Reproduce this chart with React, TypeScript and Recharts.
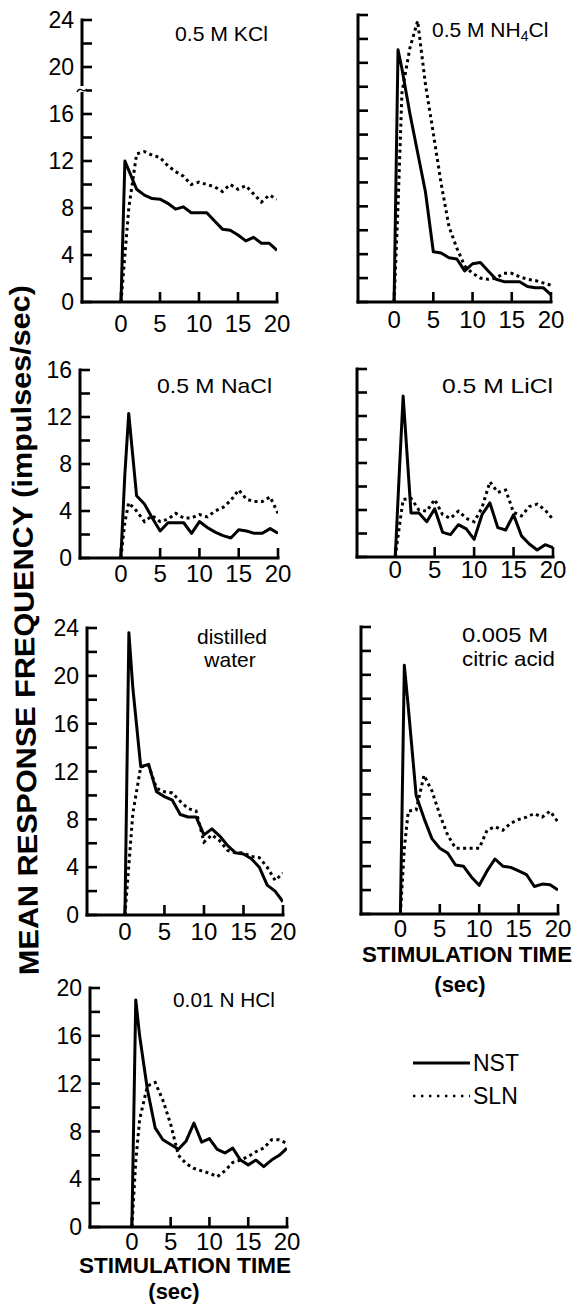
import React from 'react';
import { LineChart, Line, XAxis, YAxis } from 'recharts';

// time points (sec)
const TIME = [0, 0.5, 1, 2, 3, 4, 5, 6, 7, 8, 9, 10, 11, 12, 13, 14, 15, 16, 17, 18, 19, 20];

const X_TICKS = [0, 5, 10, 15, 20];
const Y_TICKS_24 = [0, 2, 4, 6, 8, 10, 12, 14, 16, 18, 20, 22, 24];
const Y_TICKS_20 = [0, 2, 4, 6, 8, 10, 12, 14, 16, 18, 20];
const Y_TICKS_16 = [0, 2, 4, 6, 8, 10, 12, 14, 16];
const Y_LABELS = [0, 4, 8, 12, 16, 20, 24];

const KCL_NST = [0, 12, 11.2, 9.6, 9.1, 8.8, 8.75, 8.4, 7.9, 8.1, 7.6, 7.6, 7.6, 6.9, 6.2, 6.1, 5.7, 5.2, 5.5, 5.0, 5.0, 4.4];
const KCL_SLN = [0, 4, 8, 12.6, 12.8, 12.5, 12.3, 11.6, 11.1, 10.7, 10.0, 10.2, 10.0, 9.8, 9.4, 10.0, 9.6, 9.9, 9.2, 8.5, 9.1, 8.75];

const NH4CL_NST = [0, 21.1, 19.5, 15.8, 12.5, 9.2, 4.2, 4.1, 3.7, 3.6, 2.6, 3.2, 3.3, 2.6, 1.9, 1.7, 1.7, 1.7, 1.3, 1.2, 1.2, 0.6];
const NH4CL_SLN = [0, 8, 17.5, 21.2, 23.5, 18.2, 14.1, 9.9, 6.3, 4.5, 3.0, 2.4, 2.0, 1.9, 2.0, 2.4, 2.4, 2.1, 1.9, 1.8, 1.6, 1.4];

const NACL_NST = [0, 7, 12.3, 5.3, 4.6, 3.4, 2.3, 3.0, 3.0, 3.0, 2.1, 3.1, 2.6, 2.2, 1.9, 1.7, 2.4, 2.3, 2.1, 2.1, 2.5, 2.1];
const NACL_SLN = [0, 3, 4.7, 4.0, 3.1, 3.6, 3.1, 3.3, 3.8, 3.4, 3.4, 3.7, 3.5, 4.0, 4.3, 4.9, 5.8, 5.0, 4.8, 4.8, 5.2, 3.8];

const LICL_NST = [0, 7, 13.7, 3.75, 3.75, 3.0, 4.1, 2.1, 1.9, 2.75, 2.4, 1.5, 3.6, 4.6, 2.5, 2.3, 3.6, 1.8, 1.1, 0.6, 1.05, 0.8];
const LICL_SLN = [0, 2.5, 4.9, 5.0, 4.0, 3.9, 4.9, 3.6, 3.3, 3.9, 3.3, 3.0, 4.2, 6.4, 5.5, 5.7, 3.8, 3.5, 4.3, 4.5, 4.0, 3.2];

const WATER_NST = [0, 23.6, 19, 12.4, 12.6, 10.3, 9.9, 9.6, 8.4, 8.2, 8.2, 6.7, 7.2, 6.6, 5.8, 5.2, 5.1, 4.7, 4.0, 2.5, 2.0, 1.1];
const WATER_SLN = [0, 4.2, 8.5, 12.4, 12.5, 10.6, 10.3, 10.2, 9.5, 8.9, 8.7, 6.1, 6.7, 6.2, 5.4, 5.2, 5.2, 4.9, 4.8, 4.0, 2.9, 3.5];

const CITRIC_NST = [0, 20.8, 17.3, 9.9, 8.0, 6.3, 5.5, 5.1, 4.1, 4.0, 3.1, 2.4, 3.6, 4.6, 4.0, 3.9, 3.6, 3.3, 2.3, 2.5, 2.45, 2.0];
const CITRIC_SLN = [0, 5.5, 8.6, 8.7, 11.6, 10.3, 8.3, 6.6, 5.5, 5.5, 5.5, 5.5, 7.0, 7.3, 7.0, 7.6, 7.9, 8.1, 8.4, 8.1, 8.6, 7.7];

const HCL_NST = [0, 19, 16, 11.5, 8.3, 7.3, 6.9, 6.5, 7.2, 8.7, 7.1, 7.4, 6.5, 6.2, 6.6, 5.6, 5.2, 5.6, 5.05, 5.6, 6.0, 6.6];
const HCL_SLN = [0, 5.5, 9.0, 11.8, 12.1, 10.6, 8.6, 6.0, 5.3, 4.9, 4.7, 4.5, 4.2, 4.7, 5.4, 5.6, 5.9, 6.3, 6.6, 7.3, 7.3, 7.0];

const FONT = '"Liberation Sans", Arial, Helvetica, sans-serif';

type Panel = {
  id: string;
  nst: number[];
  sln: number[];
  yMax: number;
  yTicks: number[];
  labels: boolean;
  left: number;
  right: number;
  top: number;
  bottom: number;
  xMin: number;
  xLab: number;
};

const PANELS: Panel[] = [
  { id: 'kcl', nst: KCL_NST, sln: KCL_SLN, yMax: 24, yTicks: Y_TICKS_24, labels: true, left: 82, right: 277, top: 20, bottom: 302, xMin: -5, xLab: 30 },
  { id: 'nh4cl', nst: NH4CL_NST, sln: NH4CL_SLN, yMax: 24, yTicks: Y_TICKS_24, labels: false, left: 358, right: 551, top: 15, bottom: 302, xMin: -4.6, xLab: 26 },
  { id: 'nacl', nst: NACL_NST, sln: NACL_SLN, yMax: 16, yTicks: Y_TICKS_16, labels: true, left: 80, right: 278, top: 370, bottom: 558, xMin: -5.2, xLab: 24 },
  { id: 'licl', nst: LICL_NST, sln: LICL_SLN, yMax: 16, yTicks: Y_TICKS_16, labels: false, left: 357, right: 553, top: 369, bottom: 557, xMin: -4.85, xLab: 21 },
  { id: 'water', nst: WATER_NST, sln: WATER_SLN, yMax: 24, yTicks: Y_TICKS_24, labels: true, left: 87, right: 283, top: 628, bottom: 915, xMin: -4.8, xLab: 25 },
  { id: 'citric', nst: CITRIC_NST, sln: CITRIC_SLN, yMax: 24, yTicks: Y_TICKS_24, labels: false, left: 361, right: 558, top: 627, bottom: 914, xMin: -5, xLab: 23 },
  { id: 'hcl', nst: HCL_NST, sln: HCL_SLN, yMax: 20, yTicks: Y_TICKS_20, labels: true, left: 90, right: 287, top: 988, bottom: 1227, xMin: -5.4, xLab: 23 },
];

const YW = 50;
const RM = 14;
const TM = 14;
const XB = 36;

function makeYTick(showLabels: boolean) {
  return (props: any) => {
    const { x, y, payload } = props;
    const v = payload.value;
    return (
      <g>
        <line x1={x} x2={x + 10} y1={y} y2={y} stroke="#000" strokeWidth={2.6} />
        {showLabels && Y_LABELS.includes(v) ? (
          <text x={x - 8} y={y} dy="0.36em" textAnchor="end" fontSize={23} fontFamily={FONT} fill="#000">
            {v}
          </text>
        ) : null}
      </g>
    );
  };
}

function makeXTick(offset: number) {
  return (props: any) => {
    const { x, y, payload } = props;
    return (
      <g>
        <line x1={x} x2={x} y1={y} y2={y - 10} stroke="#000" strokeWidth={2.6} />
        <text x={x} y={y + offset} textAnchor="middle" fontSize={24} fontFamily={FONT} fill="#000">
          {payload.value}
        </text>
      </g>
    );
  };
}

function PanelChart({ p }: { p: Panel }) {
  const data = TIME.map((t, i) => ({ t, nst: p.nst[i], sln: p.sln[i] }));
  const w = p.right - p.left + YW + RM;
  const h = p.bottom - p.top + TM + XB;
  return (
    <div style={{ position: 'absolute', left: p.left - YW, top: p.top - TM, width: w, height: h }}>
      <LineChart width={w} height={h} data={data} margin={{ top: TM, right: RM, bottom: 0, left: 0 }}>
        <XAxis
          dataKey="t"
          type="number"
          domain={[p.xMin, 20]}
          ticks={X_TICKS}
          interval={0}
          allowDataOverflow
          height={XB}
          tickSize={0}
          tickMargin={0}
          tickLine={false}
          axisLine={{ stroke: '#000', strokeWidth: 3, strokeLinecap: 'square' }}
          tick={makeXTick(p.xLab)}
        />
        <YAxis
          type="number"
          domain={[0, p.yMax]}
          ticks={p.yTicks}
          interval={0}
          allowDataOverflow
          width={YW}
          tickSize={0}
          tickMargin={0}
          tickLine={false}
          axisLine={{ stroke: '#000', strokeWidth: 3, strokeLinecap: 'square' }}
          tick={makeYTick(p.labels)}
        />
        <Line
          dataKey="sln"
          type="linear"
          stroke="#000"
          strokeWidth={3}
          strokeDasharray="3 3.5"
          dot={false}
          activeDot={false}
          isAnimationActive={false}
        />
        <Line
          dataKey="nst"
          type="linear"
          stroke="#000"
          strokeWidth={3}
          strokeLinejoin="round"
          dot={false}
          activeDot={false}
          isAnimationActive={false}
        />
      </LineChart>
    </div>
  );
}

export default function App() {
  const t = { fontFamily: FONT, fill: '#000' } as const;
  return (
    <div style={{ position: 'absolute', left: 0, top: 0, width: 574, height: 1306, background: '#fff', overflow: 'hidden' }}>
      {PANELS.map((p) => (
        <PanelChart key={p.id} p={p} />
      ))}
      <svg width={574} height={1306} style={{ position: 'absolute', left: 0, top: 0, pointerEvents: 'none' }}>
        {/* axis break on KCl panel */}
        <rect x={78} y={86} width={8} height={6} fill="#fff" />
        <path d="M77 92 Q79 88 82 90 T87 89" stroke="#000" strokeWidth={1.4} fill="none" />

        {/* panel titles */}
        <text x={175} y={41} fontSize={21} textLength={93} lengthAdjust="spacingAndGlyphs" {...t}>0.5 M KCl</text>
        <text x={432} y={37} fontSize={21} {...t}>
          <tspan>0.5 M NH</tspan>
          <tspan dy={4} fontSize={14}>4</tspan>
          <tspan dy={-4}>Cl</tspan>
        </text>
        <text x={157} y={393} fontSize={21} textLength={115} lengthAdjust="spacingAndGlyphs" {...t}>0.5 M NaCl</text>
        <text x={442} y={393} fontSize={21} textLength={111} lengthAdjust="spacingAndGlyphs" {...t}>0.5 M LiCl</text>
        <text x={232} y={644} fontSize={21} textAnchor="middle" {...t}>distilled</text>
        <text x={230} y={667} fontSize={21} textAnchor="middle" {...t}>water</text>
        <text x={462} y={642} fontSize={21} textLength={86} lengthAdjust="spacingAndGlyphs" {...t}>0.005 M</text>
        <text x={462} y={666} fontSize={21} textLength={93} lengthAdjust="spacingAndGlyphs" {...t}>citric acid</text>
        <text x={173} y={1007} fontSize={21} textLength={102} lengthAdjust="spacingAndGlyphs" {...t}>0.01 N HCl</text>

        {/* y axis title */}
        <text
          transform="translate(34,630) rotate(-90.8)"
          textAnchor="middle"
          fontSize={28}
          fontWeight="bold"
          textLength={690}
          lengthAdjust="spacingAndGlyphs"
          {...t}
        >
          MEAN RESPONSE FREQUENCY (impulses/sec)
        </text>

        {/* x axis titles */}
        <text x={467} y={962} fontSize={22} fontWeight="bold" textAnchor="middle" textLength={210} lengthAdjust="spacingAndGlyphs" {...t}>STIMULATION TIME</text>
        <text x={460} y={992} fontSize={22} fontWeight="bold" textAnchor="middle" {...t}>(sec)</text>
        <text x={185} y={1273} fontSize={22} fontWeight="bold" textAnchor="middle" textLength={212} lengthAdjust="spacingAndGlyphs" {...t}>STIMULATION TIME</text>
        <text x={174} y={1299} fontSize={22} fontWeight="bold" textAnchor="middle" {...t}>(sec)</text>

        {/* legend */}
        <line x1={413} x2={470} y1={1063} y2={1063} stroke="#000" strokeWidth={3} />
        <text x={473} y={1071} fontSize={23} {...t}>NST</text>
        <line x1={413} x2={470} y1={1096} y2={1096} stroke="#000" strokeWidth={2.4} strokeDasharray="2.4 5.6" />
        <text x={473} y={1104} fontSize={23} {...t}>SLN</text>
      </svg>
    </div>
  );
}
